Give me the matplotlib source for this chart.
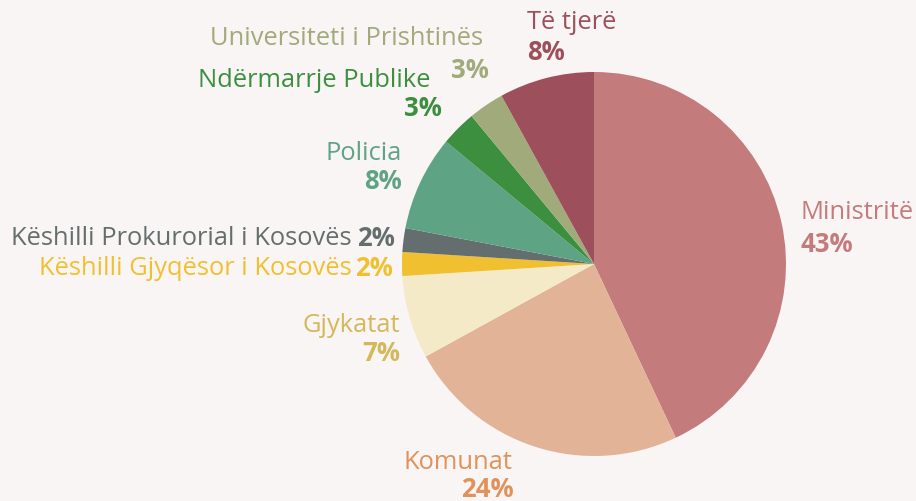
import matplotlib.pyplot as plt

plt.rcParams['font.family'] = ['Open Sans', 'DejaVu Sans']

# slices, clockwise from 12 o'clock
categories = ["Ministritë", "Komunat", "Gjykatat", "Këshilli Gjyqësor i Kosovës",
              "Këshilli Prokurorial i Kosovës", "Policia", "Ndërmarrje Publike",
              "Universiteti i Prishtinës", "Të tjerë"]
shares = [43, 24, 7, 2, 2, 8, 3, 3, 8]

slice_colors = ["#c47b7b", "#e2b396", "#f5eac8", "#f0c030", "#656e6e",
                "#5fa385", "#3d8f40", "#a0aa7a", "#9e4f5c"]
label_colors = ["#c47b7b", "#e0925a", "#d4b85a", "#f0c030", "#656e6e",
                "#5fa385", "#3d8f40", "#a0aa7a", "#9e4f5c"]

# label layout (data units, pie radius = 1): name pos, pct pos, alignment, same line?
label_layout = [
    ((1.073, 0.266), (1.073, 0.099), 'left', False),
    ((-0.427, -1.036), (-0.417, -1.177), 'right', False),
    ((-1.010, -0.318), (-1.010, -0.464), 'right', False),
    ((-1.260, -0.021), (-1.245, -0.021), 'right', True),
    ((-1.260, 0.135), (-1.234, 0.135), 'right', True),
    ((-1.000, 0.578), (-1.000, 0.432), 'right', False),
    ((-0.854, 0.958), (-0.792, 0.8125), 'right', False),
    ((-0.578, 1.177), (-0.547, 1.010), 'right', False),
    ((-0.349, 1.260), (-0.349, 1.104), 'left', False),
]

bg = "#f9f5f4"
fig = plt.figure(figsize=(9.16, 5.01), dpi=100, facecolor=bg)
ax = fig.add_axes([(594 - 192) / 916, (501 - 264 - 192) / 501, 384 / 916, 384 / 501])
ax.set_facecolor(bg)

ax.pie(shares, colors=slice_colors, startangle=90, counterclock=False,
       radius=1, wedgeprops=dict(linewidth=0))

for name, share, col, (npos, ppos, ha, inline) in zip(categories, shares, label_colors, label_layout):
    ax.text(npos[0], npos[1], name, color=col, fontsize=18.4, ha=ha, va='center', clip_on=False)
    ax.text(ppos[0], ppos[1], f"{share}%", color=col, fontsize=18.5, fontweight='bold',
            ha='left' if inline else ha, va='center', clip_on=False)

ax.set_xlim(-1, 1)
ax.set_ylim(-1, 1)
ax.set_aspect('equal')
ax.axis('off')

fig.savefig("out.png", dpi=100, facecolor=bg)
